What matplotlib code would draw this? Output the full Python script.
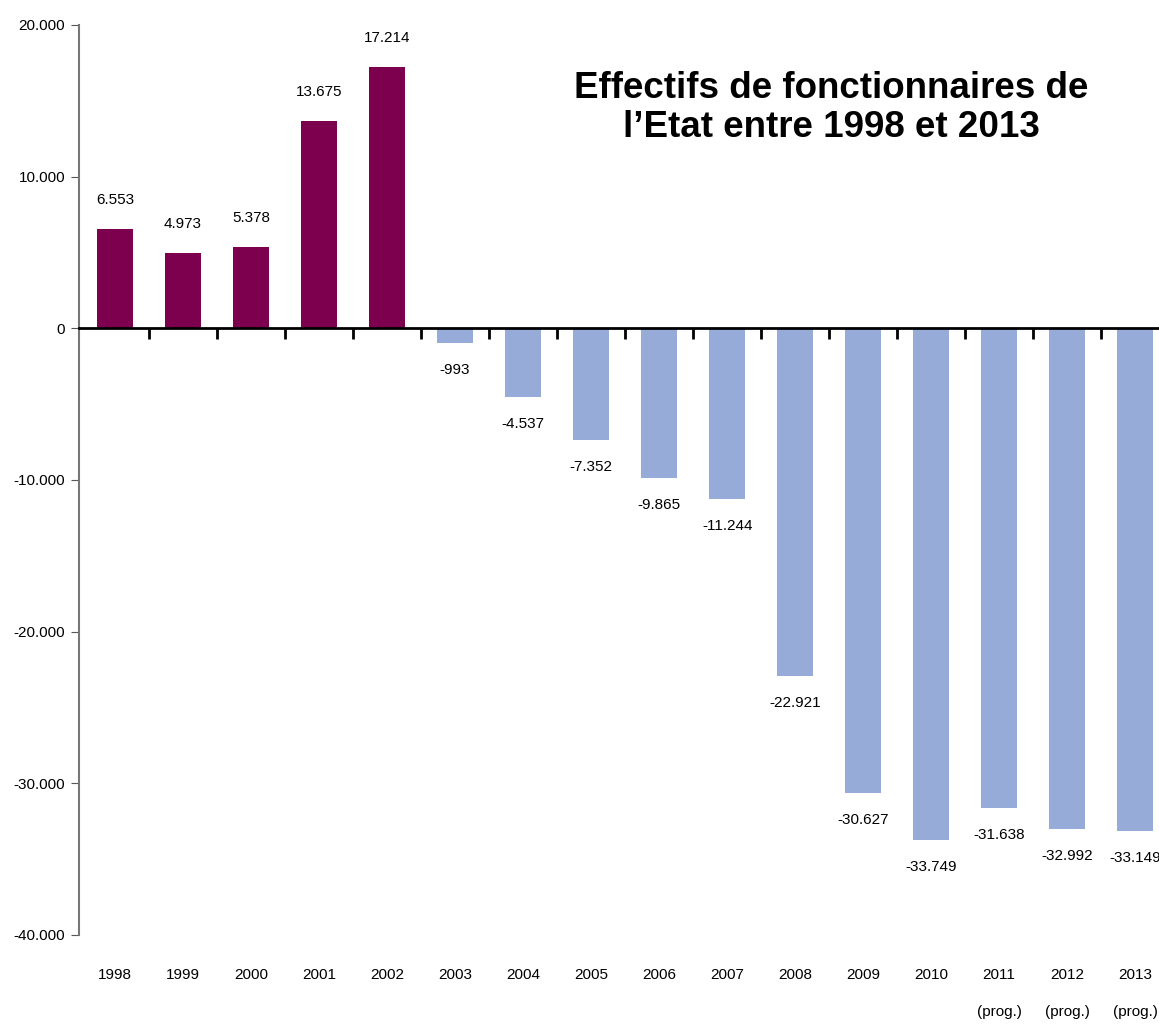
#!/usr/bin/env python3

import matplotlib
matplotlib.use("Agg")
import matplotlib.pyplot as plt
import matplotlib.transforms as mtransforms
import numpy as np

years = ["1998", "1999", "2000", "2001", "2002", "2003", "2004", "2005",
         "2006", "2007", "2008", "2009", "2010", "2011", "2012", "2013"]
prog = [False] * 13 + [True] * 3
values = [6553, 4973, 5378, 13675, 17214, -993, -4537, -7352,
          -9865, -11244, -22921, -30627, -33749, -31638, -32992, -33149]
yticks = [20000, 10000, 0, -10000, -20000, -30000, -40000]

plt.rcParams['font.family'] = ['Liberation Sans', 'DejaVu Sans']


def fmt(v):
    return f"{v:,}".replace(",", ".")


fig = plt.figure()
fig.set_size_inches(11.59, 10.27)
ax = fig.add_axes([79 / 1159, 1 - 935 / 1027, 1 - 79 / 1159, (935 - 25) / 1027])

x = np.arange(len(values))
colors = ["#7d004f" if v > 0 else "#97abd9" for v in values]
ax.bar(x, values, width=0.53, color=colors, zorder=2)

for xi, v in zip(x, values):
    if v > 0:
        ax.annotate(fmt(v), (xi, v), xytext=(0, 22), textcoords="offset pixels",
                    ha="center", va="bottom", fontsize=11)
    else:
        ax.annotate(fmt(v), (xi, v), xytext=(0, -20), textcoords="offset pixels",
                    ha="center", va="top", fontsize=11)

ax.set_xlim(-0.53, 15.35)
ax.set_ylim(-40000, 20000)
ax.set_yticks(yticks)
ax.set_yticklabels([fmt(t) for t in yticks], fontsize=11)
ax.tick_params(axis="y", direction="out", length=6, color="#555555", pad=4)

ax.set_xticks(np.arange(0.5, 15, 1))
ax.set_xticklabels([])
ax.tick_params(axis="x", direction="out", length=8, width=2, color="black")
ax.spines["bottom"].set_position(("data", 0))
ax.spines["bottom"].set_linewidth(2)
ax.spines["bottom"].set_zorder(3)
ax.spines["left"].set_color("#777777")
ax.spines["left"].set_linewidth(1.5)
ax.spines["top"].set_visible(False)
ax.spines["right"].set_visible(False)

trans = mtransforms.blended_transform_factory(ax.transData, fig.transFigure)
for xi, yr, p in zip(x, years, prog):
    ax.text(xi, 1 - 975 / 1027, yr, transform=trans, ha="center", va="center",
            fontsize=11, clip_on=False)
    if p:
        ax.text(xi, 1 - 1012 / 1027, "(prog.)", transform=trans, ha="center",
                va="center", fontsize=11, clip_on=False)

fig.text(831 / 1159, 1 - 108 / 1027, "Effectifs de fonctionnaires de\nl\u2019Etat entre 1998 et 2013",
         ha="center", va="center", fontsize=26.5, fontweight="bold", linespacing=1.15)

fig.savefig("out.png", dpi=100)
